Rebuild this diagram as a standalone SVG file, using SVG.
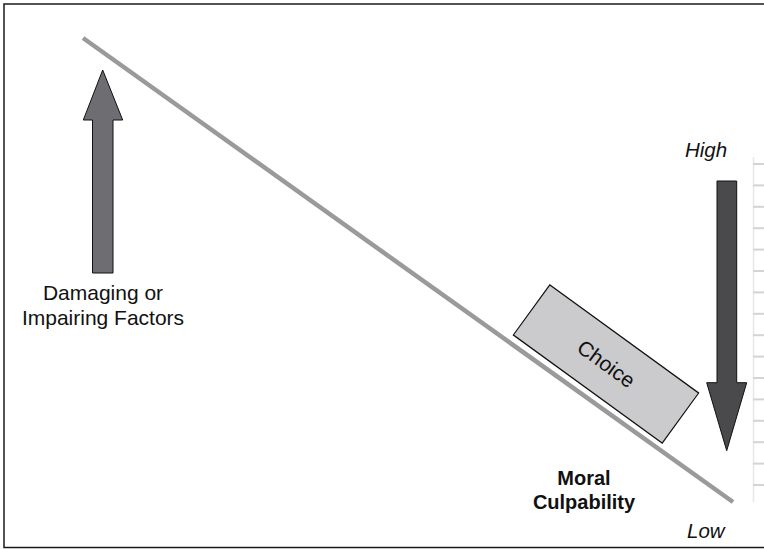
<svg xmlns="http://www.w3.org/2000/svg" width="764" height="549" viewBox="0 0 764 549">
<style>
text{font-family:"Liberation Sans",Arial,sans-serif;fill:#111}
.lbl{font-size:21px;text-anchor:middle}
.it{font-size:20.5px;font-style:italic}
.b{font-size:20px;font-weight:bold;text-anchor:middle}
.tick{stroke:#d4d4d4;stroke-width:2}
.arr{stroke:#111;stroke-width:1;stroke-linejoin:miter}
</style>
<rect width="764" height="549" fill="#fff"/>
<rect x="4" y="4" width="790" height="543.5" fill="none" stroke="#1a1a1a" stroke-width="1.5"/>
<g id="scale">
<line x1="753.5" y1="157" x2="753.5" y2="502" stroke="#e8e8e8" stroke-width="1.5"/>
<g class="tick">
<line x1="753" y1="164" x2="764" y2="164"/>
<line x1="753" y1="185.4" x2="764" y2="185.4"/>
<line x1="753" y1="206.8" x2="764" y2="206.8"/>
<line x1="753" y1="228.2" x2="764" y2="228.2"/>
<line x1="753" y1="249.6" x2="764" y2="249.6"/>
<line x1="753" y1="271" x2="764" y2="271"/>
<line x1="753" y1="292.4" x2="764" y2="292.4"/>
<line x1="753" y1="313.8" x2="764" y2="313.8"/>
<line x1="753" y1="335.2" x2="764" y2="335.2"/>
<line x1="753" y1="356.6" x2="764" y2="356.6"/>
<line x1="753" y1="378" x2="764" y2="378"/>
<line x1="753" y1="399.4" x2="764" y2="399.4"/>
<line x1="753" y1="420.8" x2="764" y2="420.8"/>
<line x1="753" y1="442.2" x2="764" y2="442.2"/>
<line x1="753" y1="463.6" x2="764" y2="463.6"/>
<line x1="753" y1="485" x2="764" y2="485"/>
</g>
</g>
<g id="connectors">
<line x1="83" y1="38" x2="733" y2="502" stroke="#9a9a9a" stroke-width="4.5"/>
</g>
<g id="up-arrow">
<polygon class="arr" fill="#6e6e72" points="102.7,70 122.7,120 113,120 113,273 92.5,273 92.5,120 83.3,120"/>
</g>
<g id="down-arrow">
<polygon class="arr" fill="#4a4a4c" points="717,181 736.7,181 736.7,382.7 746.7,382.7 726.7,450.7 706.7,382.7 717,382.7"/>
</g>
<g id="damaging">
<text class="lbl" x="103" y="300">Damaging or</text>
<text class="lbl" x="103" y="325">Impairing Factors</text>
</g>
<g id="choice" transform="translate(606,364) rotate(36)">
<rect x="-92" y="-31" width="184" height="62" fill="#cbcbcd" stroke="#111" stroke-width="1.2"/>
<text x="0" y="7" style="font-size:21px;text-anchor:middle">Choice</text>
</g>
<g id="moral">
<text class="b" x="584" y="485">Moral</text>
<text class="b" x="584" y="509">Culpability</text>
</g>
<g id="high"><text class="it" x="685" y="157">High</text></g>
<g id="low"><text class="it" x="687" y="538">Low</text></g>
</svg>
